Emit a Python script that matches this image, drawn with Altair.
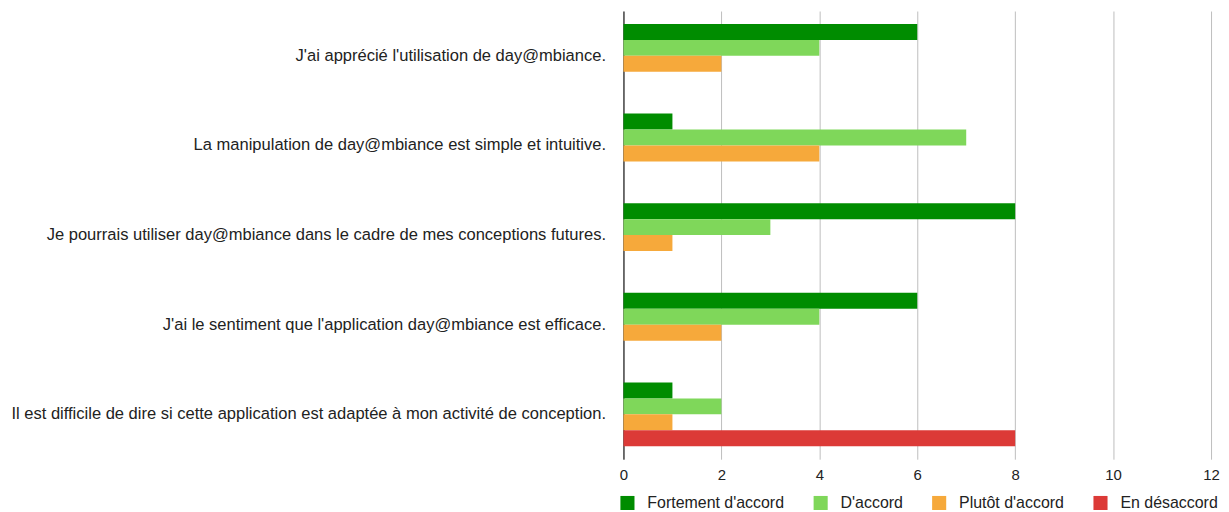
import altair as alt
import pandas as pd

questions = [
    "J'ai apprécié l'utilisation de day@mbiance.",
    "La manipulation de day@mbiance est simple et intuitive.",
    "Je pourrais utiliser day@mbiance dans le cadre de mes conceptions futures.",
    "J'ai le sentiment que l'application day@mbiance est efficace.",
    "Il est difficile de dire si cette application est adaptée à mon activité de conception.",
]
series = ["Fortement d'accord", "D'accord", "Plutôt d'accord", "En désaccord"]
fortement = [6, 1, 8, 6, 1]
daccord = [4, 7, 3, 4, 2]
plutot = [2, 4, 1, 2, 1]
desaccord = [0, 0, 0, 0, 8]
colors = ["#008c00", "#7fd75a", "#f6a93b", "#dc3a37"]
ticks = [0, 2, 4, 6, 8, 10, 12]

rows = []
for s, vals in zip(series, [fortement, daccord, plutot, desaccord]):
    for q, v in zip(questions, vals):
        rows.append({"question": q, "serie": s, "valeur": v})
df = pd.DataFrame(rows)

FONT = "Liberation Sans"

chart = alt.Chart(df).mark_bar(stroke=None).encode(
    y=alt.Y("question:N", sort=questions, title=None,
            scale=alt.Scale(paddingInner=0, paddingOuter=0),
            axis=alt.Axis(ticks=False, labelPadding=18, labelFontSize=16.6,
                          labelFont=FONT, labelColor="#222222", labelLimit=700,
                          domainColor="#000000", domainWidth=1, grid=False)),
    yOffset=alt.YOffset("serie:N", sort=series,
                        scale=alt.Scale(paddingInner=0, paddingOuter=0.81)),
    x=alt.X("valeur:Q", title=None,
            scale=alt.Scale(domain=[0, 12], nice=False),
            axis=alt.Axis(values=ticks, ticks=False, domain=False, labelPadding=8,
                          labelFontSize=15, labelFont=FONT, labelColor="#222222",
                          grid=True, gridColor="#bdbdbd", gridWidth=1,
                          labelFlush=False)),
    color=alt.Color("serie:N", sort=series,
                    scale=alt.Scale(domain=series, range=colors),
                    legend=alt.Legend(title=None, orient="none", legendX=-4, legendY=486,
                                      direction="horizontal", columns=4,
                                      symbolType="square", symbolSize=200,
                                      symbolStrokeWidth=0, labelOffset=12,
                                      labelFontSize=16, labelFont=FONT,
                                      labelColor="#222222", columnPadding=28,
                                      padding=0)),
).properties(
    width=590, height=450,
    autosize=alt.AutoSizeParams(type="none"),
    padding={"left": 618, "top": 2, "right": 10, "bottom": 50},
).configure_view(stroke=None)

chart.save("out.html", embed_options={"renderer": "svg", "actions": False})
